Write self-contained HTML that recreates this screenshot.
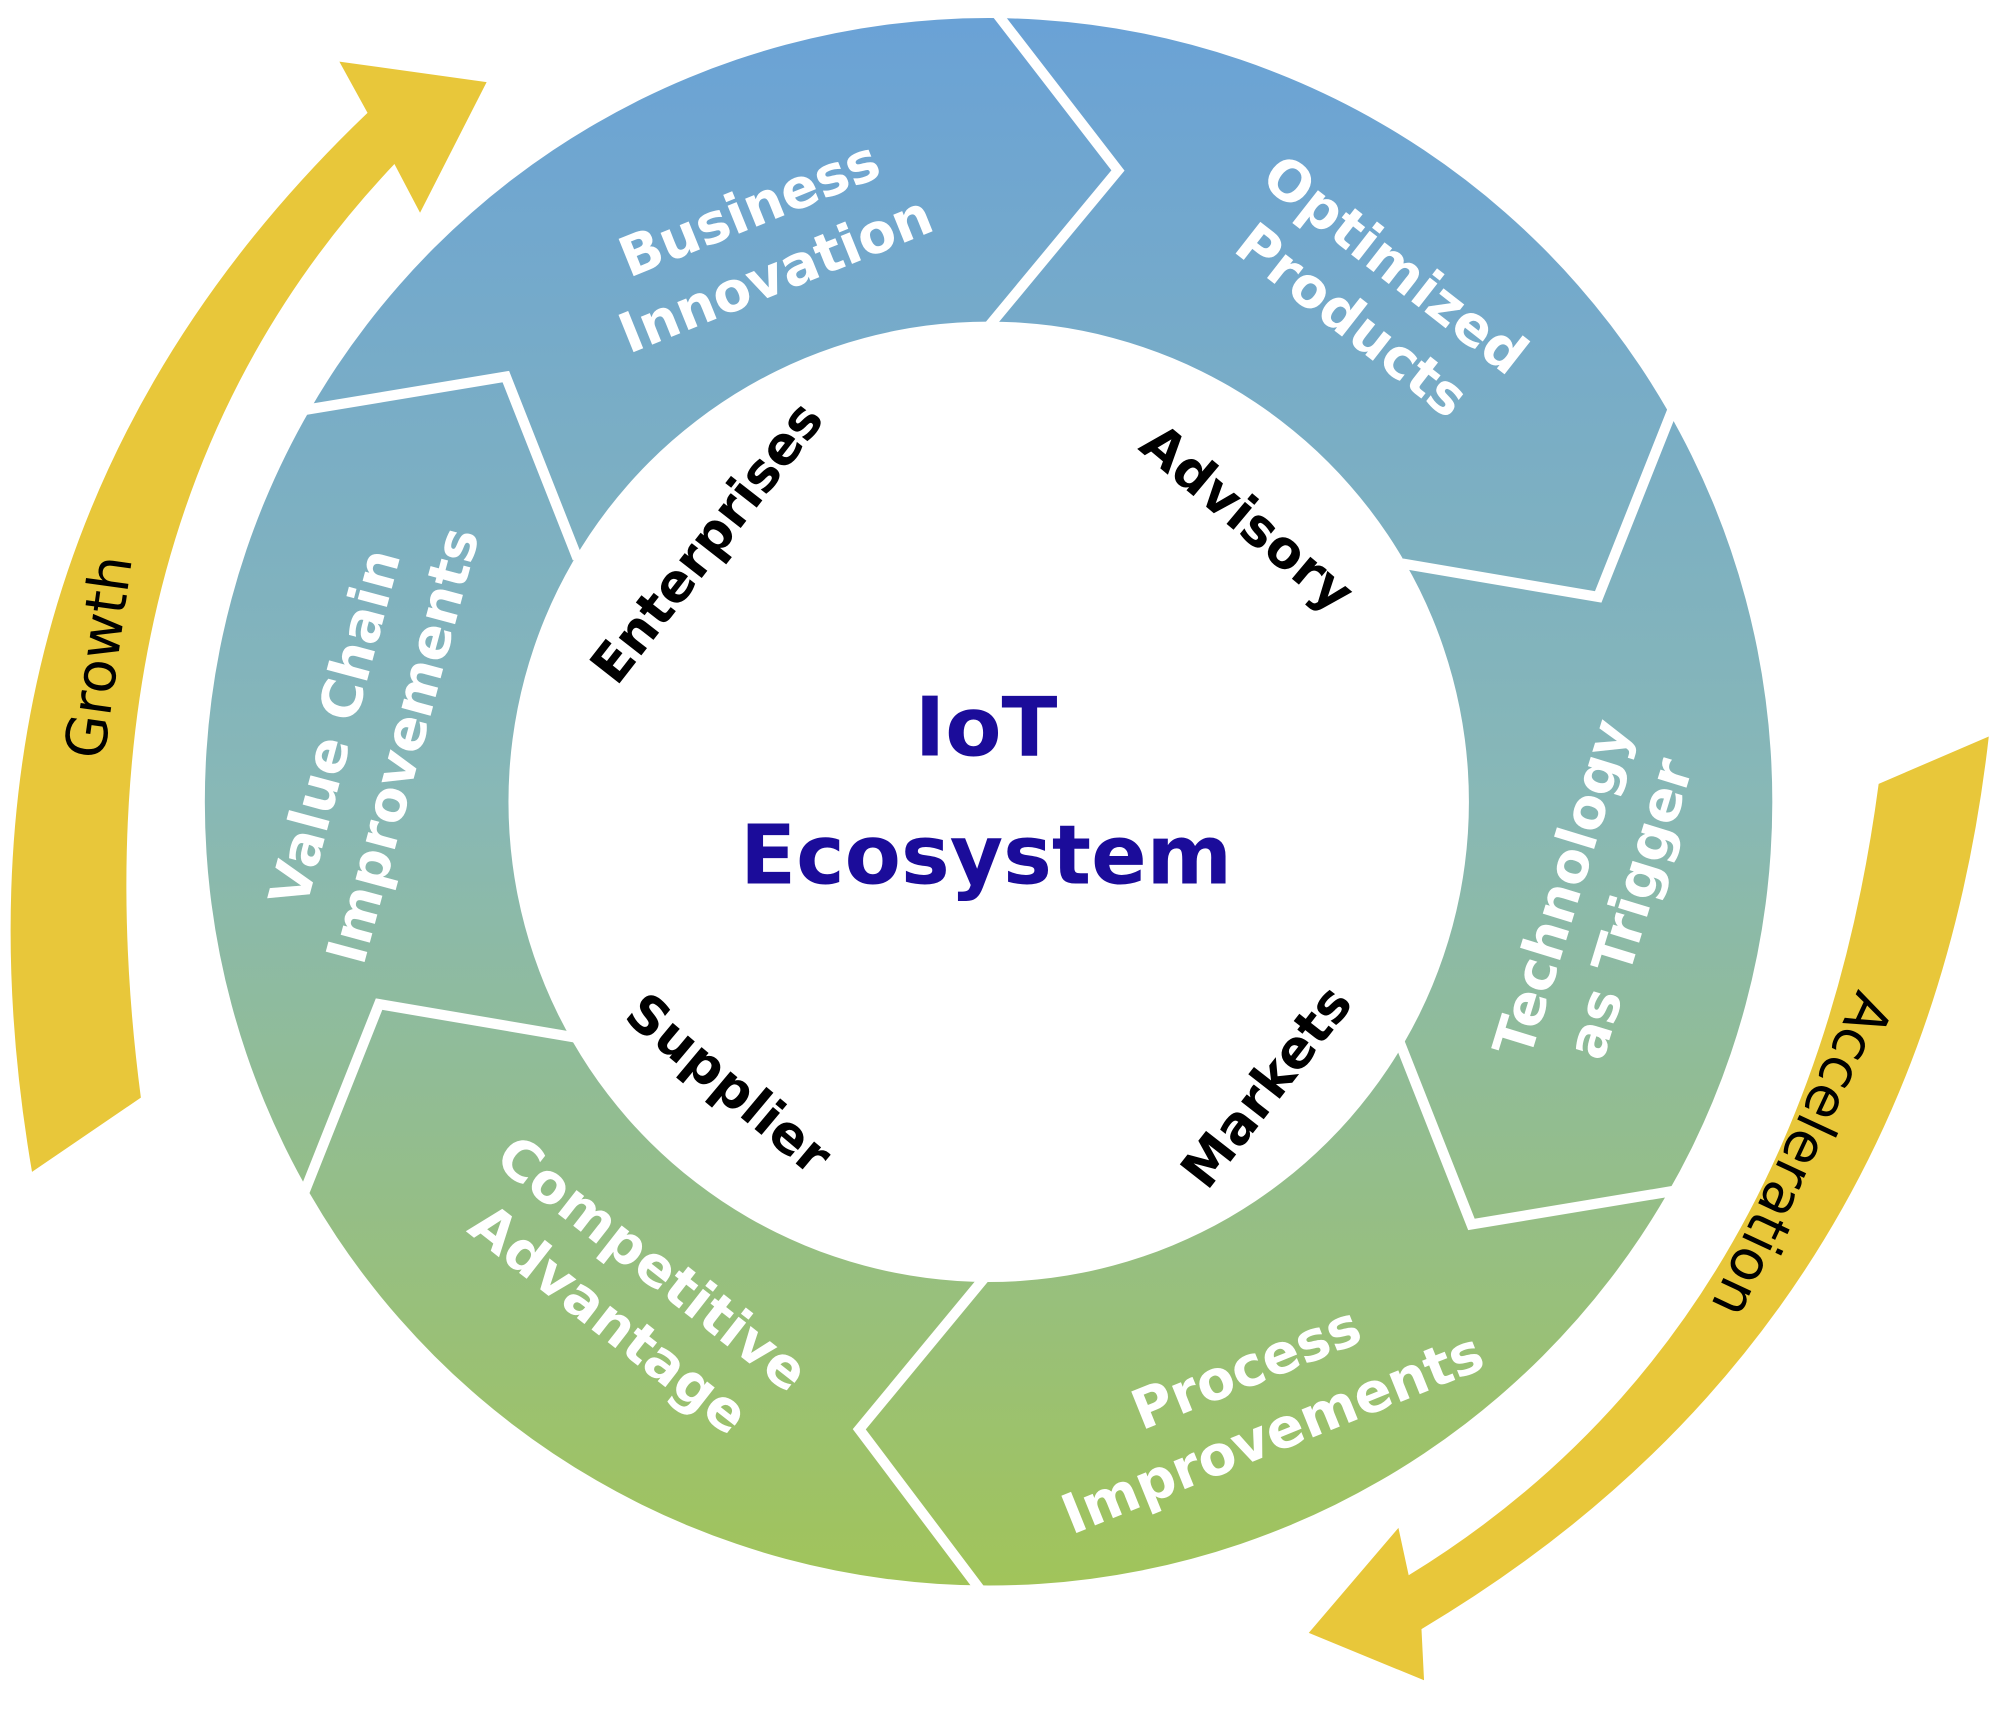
<!DOCTYPE html>
<html><head><meta charset="utf-8"><style>html,body{margin:0;padding:0;background:#fff}svg{display:block}</style></head>
<body>
<svg width="2008" height="1715" viewBox="0 0 1568 1339" xmlns="http://www.w3.org/2000/svg">
<defs>
<linearGradient id="g" x1="0" y1="14" x2="0" y2="1238" gradientUnits="userSpaceOnUse">
<stop offset="0" stop-color="#6aa2d6"/><stop offset="0.5" stop-color="#88b8b6"/><stop offset="1" stop-color="#a1c45a"/>
</linearGradient>
</defs>
<path fill="url(#g)" fill-rule="evenodd" d="M772,14 A612,612 0 1,1 771.9,14 Z M772,251 A375,375 0 1,0 772.1,251 Z"/>
<g fill="none" stroke="#fff" stroke-width="8" stroke-linejoin="miter">
<polyline points="778,10 873,133 771,256"/>
<polyline points="1306,320 1248,466 1095,440"/>
<polyline points="1306,930 1149,956 1093,814"/>
<polyline points="766,1242 671,1116 771,995"/>
<polyline points="238,930 296,784 449,810"/>
<polyline points="238,320 395,294 451,436"/>
</g>
<path fill="#e8c73a" d="M25,915 Q-60,420 287,88 L265,48 L380,64 L328,166 L308,128 Q50,400 110,857 Z"/>
<path fill="#e8c73a" d="M1553,575 Q1500,1040 1110,1272 L1112,1312 L1022,1275 L1092,1193 L1100,1230 Q1410,1040 1467,612 Z"/>
<g font-family="'DejaVu Sans','Liberation Sans',sans-serif" font-weight="bold" font-size="43" fill="#fff" text-anchor="middle">
<text transform="translate(600,200) rotate(-22)"><tspan x="0" y="-25">Business</tspan><tspan x="0" y="30">Innovation</tspan></text>
<text transform="translate(1065,238) rotate(38)"><tspan x="0" y="-25">Optimized</tspan><tspan x="0" y="30">Products</tspan></text>
<text transform="translate(1258,705) rotate(-73)"><tspan x="0" y="-25">Technology</tspan><tspan x="0" y="30">as Trigger</tspan></text>
<text transform="translate(988,1105) rotate(-22)"><tspan x="0" y="-25">Process</tspan><tspan x="0" y="30">Improvements</tspan></text>
<text transform="translate(485,1018) rotate(38)"><tspan x="0" y="-25">Competitive</tspan><tspan x="0" y="30">Advantage</tspan></text>
<text transform="translate(300,578) rotate(-75)"><tspan x="0" y="-25">Value Chain</tspan><tspan x="0" y="30">Improvements</tspan></text>
</g>
<g font-family="'DejaVu Sans','Liberation Sans',sans-serif" font-weight="bold" font-size="41" fill="#000" text-anchor="middle">
<text transform="translate(563,432) rotate(-52)">Enterprises</text>
<text transform="translate(965,415) rotate(40)">Advisory</text>
<text transform="translate(1000,857) rotate(-52)">Markets</text>
<text transform="translate(560,857) rotate(40)">Supplier</text>
</g>
<g font-family="'DejaVu Sans','Liberation Sans',sans-serif" font-weight="bold" font-size="64" fill="#1b0c9a" text-anchor="middle">
<text x="770" y="590">IoT</text>
<text x="770" y="690">Ecosystem</text>
</g>
<g font-family="'DejaVu Sans','Liberation Sans',sans-serif" font-size="44" fill="#000" text-anchor="middle">
<text transform="translate(92,515) rotate(-82)">Growth</text>
<text transform="translate(1407,902) rotate(115)" dy="15">Acceleration</text>
</g>
</svg>
</body></html>
